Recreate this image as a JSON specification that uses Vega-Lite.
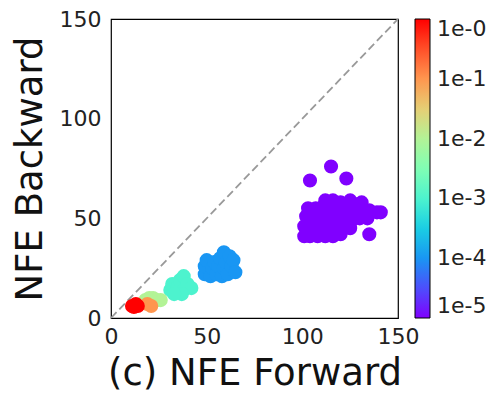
{
  "$schema": "https://vega.github.io/schema/vega-lite/v6.json",
  "autosize": "none",
  "width": 287,
  "height": 299,
  "padding": {"left": 111, "top": 19, "right": 95, "bottom": 76},
  "background": "white",
  "config": {
    "font": "DejaVu Sans",
    "view": {"stroke": "black", "strokeWidth": 1.2},
    "axis": {"domain": false, "grid": false, "ticks": false, "labelFlush": false, "labelFontSize": 22, "labelColor": "#222", "titleFontSize": 37, "titleFontWeight": "normal", "titleColor": "#111"}
  },
  "datasets": {
    "pts": [
      {"fwd": 101, "bwd": 41, "tol": 0.00001}, {"fwd": 104, "bwd": 41, "tol": 0.00001}, {"fwd": 108, "bwd": 41, "tol": 0.00001}, {"fwd": 112, "bwd": 41, "tol": 0.00001}, {"fwd": 116, "bwd": 41, "tol": 0.00001}, {"fwd": 120, "bwd": 42, "tol": 0.00001},
      {"fwd": 101, "bwd": 46, "tol": 0.00001}, {"fwd": 105, "bwd": 45, "tol": 0.00001}, {"fwd": 109, "bwd": 46, "tol": 0.00001}, {"fwd": 113, "bwd": 45, "tol": 0.00001}, {"fwd": 117, "bwd": 46, "tol": 0.00001}, {"fwd": 121, "bwd": 45, "tol": 0.00001}, {"fwd": 125, "bwd": 45, "tol": 0.00001},
      {"fwd": 102, "bwd": 51, "tol": 0.00001}, {"fwd": 106, "bwd": 50, "tol": 0.00001}, {"fwd": 110, "bwd": 51, "tol": 0.00001}, {"fwd": 114, "bwd": 50, "tol": 0.00001}, {"fwd": 118, "bwd": 51, "tol": 0.00001}, {"fwd": 122, "bwd": 50, "tol": 0.00001}, {"fwd": 126, "bwd": 49, "tol": 0.00001}, {"fwd": 130, "bwd": 50, "tol": 0.00001}, {"fwd": 134, "bwd": 50, "tol": 0.00001},
      {"fwd": 103, "bwd": 55, "tol": 0.00001}, {"fwd": 107, "bwd": 55, "tol": 0.00001}, {"fwd": 111, "bwd": 56, "tol": 0.00001}, {"fwd": 115, "bwd": 55, "tol": 0.00001}, {"fwd": 119, "bwd": 56, "tol": 0.00001}, {"fwd": 123, "bwd": 55, "tol": 0.00001}, {"fwd": 127, "bwd": 54, "tol": 0.00001}, {"fwd": 131, "bwd": 54, "tol": 0.00001}, {"fwd": 135, "bwd": 54, "tol": 0.00001}, {"fwd": 139, "bwd": 53, "tol": 0.00001}, {"fwd": 141, "bwd": 53, "tol": 0.00001},
      {"fwd": 112, "bwd": 59, "tol": 0.00001}, {"fwd": 116, "bwd": 59, "tol": 0.00001}, {"fwd": 120, "bwd": 58, "tol": 0.00001}, {"fwd": 125, "bwd": 59, "tol": 0.00001}, {"fwd": 131, "bwd": 58, "tol": 0.00001}, {"fwd": 128, "bwd": 57, "tol": 0.00001},
      {"fwd": 104, "bwd": 69, "tol": 0.00001}, {"fwd": 115, "bwd": 76, "tol": 0.00001}, {"fwd": 123, "bwd": 70, "tol": 0.00001}, {"fwd": 135, "bwd": 42, "tol": 0.00001},
      {"fwd": 49, "bwd": 22, "tol": 0.0001}, {"fwd": 49, "bwd": 26, "tol": 0.0001}, {"fwd": 50, "bwd": 29, "tol": 0.0001}, {"fwd": 52, "bwd": 21, "tol": 0.0001}, {"fwd": 53, "bwd": 25, "tol": 0.0001}, {"fwd": 54, "bwd": 28, "tol": 0.0001}, {"fwd": 55, "bwd": 22, "tol": 0.0001}, {"fwd": 56, "bwd": 26, "tol": 0.0001}, {"fwd": 57, "bwd": 30, "tol": 0.0001}, {"fwd": 58, "bwd": 21, "tol": 0.0001}, {"fwd": 59, "bwd": 25, "tol": 0.0001}, {"fwd": 59, "bwd": 33, "tol": 0.0001}, {"fwd": 60, "bwd": 28, "tol": 0.0001}, {"fwd": 61, "bwd": 22, "tol": 0.0001}, {"fwd": 62, "bwd": 31, "tol": 0.0001}, {"fwd": 63, "bwd": 26, "tol": 0.0001}, {"fwd": 64, "bwd": 29, "tol": 0.0001}, {"fwd": 65, "bwd": 23, "tol": 0.0001},
      {"fwd": 31, "bwd": 14, "tol": 0.001}, {"fwd": 32, "bwd": 17, "tol": 0.001}, {"fwd": 34, "bwd": 13, "tol": 0.001}, {"fwd": 35, "bwd": 16, "tol": 0.001}, {"fwd": 36, "bwd": 19, "tol": 0.001}, {"fwd": 38, "bwd": 21, "tol": 0.001}, {"fwd": 38, "bwd": 14, "tol": 0.001}, {"fwd": 40, "bwd": 17, "tol": 0.001}, {"fwd": 42, "bwd": 15, "tol": 0.001}, {"fwd": 37, "bwd": 12, "tol": 0.001}, {"fwd": 33, "bwd": 12, "tol": 0.001},
      {"fwd": 18, "bwd": 9, "tol": 0.01}, {"fwd": 20, "bwd": 10, "tol": 0.01}, {"fwd": 22, "bwd": 10, "tol": 0.01}, {"fwd": 24, "bwd": 9, "tol": 0.01}, {"fwd": 26, "bwd": 9, "tol": 0.01}, {"fwd": 22, "bwd": 8, "tol": 0.01},
      {"fwd": 19, "bwd": 7, "tol": 0.1}, {"fwd": 21, "bwd": 6, "tol": 0.1},
      {"fwd": 11, "bwd": 6, "tol": 1}, {"fwd": 13, "bwd": 7, "tol": 1}, {"fwd": 14, "bwd": 6, "tol": 1}, {"fwd": 12, "bwd": 5.5, "tol": 1}
    ],
    "diag": [{"x0": 0, "y0": 0, "x1": 150, "y1": 150}]
  },
  "layer": [
    {
      "data": {"name": "diag"},
      "mark": {"type": "rule", "color": "#999999", "strokeDash": [8, 4], "strokeWidth": 1.8},
      "encoding": {
        "x": {"field": "x0", "type": "quantitative", "scale": {"domain": [0, 150], "nice": false}},
        "y": {"field": "y0", "type": "quantitative", "scale": {"domain": [0, 150], "nice": false}},
        "x2": {"field": "x1"},
        "y2": {"field": "y1"}
      }
    },
    {
      "data": {"name": "pts"},
      "mark": {"type": "circle", "size": 200, "opacity": 1},
      "encoding": {
        "x": {"field": "fwd", "type": "quantitative", "scale": {"domain": [0, 150], "nice": false}, "axis": {"values": [0, 50, 100, 150], "title": "(c) NFE Forward", "labelPadding": 8, "titlePadding": 8}},
        "y": {"field": "bwd", "type": "quantitative", "scale": {"domain": [0, 150], "nice": false}, "axis": {"values": [0, 50, 100, 150], "title": "NFE Backward", "labelPadding": 10, "titlePadding": 10}},
        "color": {
          "field": "tol", "type": "quantitative",
          "scale": {"type": "log", "domain": [0.00001, 0.000031623, 0.0001, 0.00031623, 0.001, 0.0031623, 0.01, 0.031623, 0.1, 0.31623, 1], "range": ["#8000ff", "#4d4ffc", "#1996f3", "#1acee3", "#4df3ce", "#80ffb4", "#b3f396", "#e6ce74", "#ff964f", "#ff4f28", "#ff0000"], "interpolate": "rgb"},
          "legend": {"orient": "none", "legendX": 304, "legendY": 0, "title": null, "direction": "vertical", "gradientLength": 299, "gradientThickness": 15, "gradientStrokeColor": "black", "gradientStrokeWidth": 1, "values": [0.00001, 0.0001, 0.001, 0.01, 0.1, 1], "labelExpr": "'1e-' + abs(round(log(datum.value)/LN10))", "labelFontSize": 22, "labelColor": "#222", "labelOffset": 7, "labelBaseline": "middle", "labelOverlap": false}
        }
      }
    }
  ]
}
